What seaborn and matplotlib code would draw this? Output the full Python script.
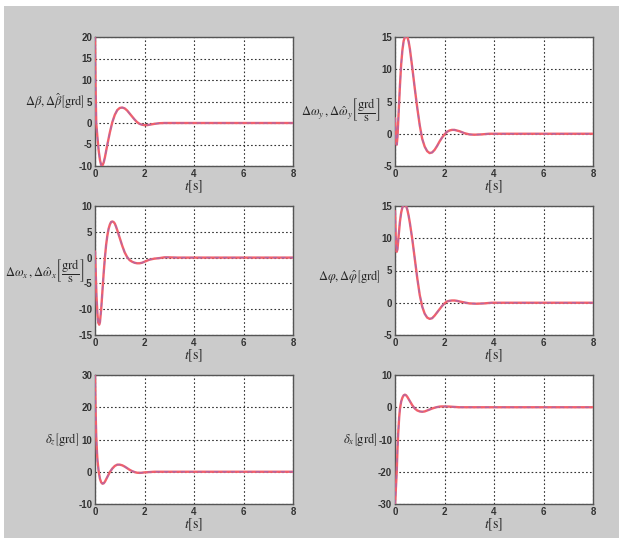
import matplotlib
matplotlib.use("Agg")
import matplotlib.pyplot as plt
import seaborn as sns
from matplotlib.patches import Rectangle

# czas [s] i przebiegi (rzeczywisty / estymowany)
t_beta = [0, 0.02, 0.05, 0.1, 0.15, 0.2, 0.25, 0.3, 0.35, 0.4, 0.5, 0.6, 0.7, 0.8, 0.9, 1.0,
          1.1, 1.2, 1.3, 1.4, 1.5, 1.6, 1.7, 1.8, 1.9, 2.0, 2.1, 2.2, 2.4, 2.6, 2.8, 8]
beta = [20, 9, 0, -3.5, -6.5, -8.6, -9.8, -9.9, -9.2, -8.0, -5.0, -2.2, 0.2, 1.9, 3.0, 3.5,
        3.6, 3.4, 2.9, 2.2, 1.5, 0.8, 0.2, -0.2, -0.4, -0.5, -0.5, -0.4, -0.2, -0.05, 0, 0]
beta_hat = list(beta)

t_wy = [0, 0.03, 0.07, 0.1, 0.15, 0.2, 0.25, 0.3, 0.35, 0.4, 0.45, 0.5, 0.55, 0.6, 0.7, 0.8,
        0.9, 1.0, 1.1, 1.2, 1.3, 1.4, 1.5, 1.6, 1.7, 1.8, 1.9, 2.0, 2.1, 2.2, 2.3, 2.4, 2.5,
        2.6, 2.8, 3.0, 3.2, 3.5, 3.8, 8]
wy = [2.4, 0, -1.7, -0.5, 3.5, 7.5, 10.8, 13.0, 14.4, 15.0, 15.2, 15.0, 14.3, 13.2, 10.2, 7.0,
      4.0, 1.3, -0.8, -2.0, -2.7, -3.0, -2.9, -2.5, -1.9, -1.2, -0.6, -0.1, 0.3, 0.5, 0.6, 0.6, 0.5,
      0.4, 0.1, -0.1, -0.15, -0.1, 0, 0]
wy_hat = list(wy)

t_wx = [0, 0.03, 0.06, 0.1, 0.13, 0.17, 0.2, 0.25, 0.3, 0.35, 0.4, 0.45, 0.5, 0.55, 0.6, 0.65,
        0.7, 0.75, 0.8, 0.85, 0.9, 1.0, 1.1, 1.2, 1.3, 1.4, 1.5, 1.6, 1.7, 1.8, 1.9, 2.0, 2.1,
        2.2, 2.4, 2.6, 2.8, 3.0, 3.3, 8]
wx = [1.2, -3, -7.5, -11, -12.6, -13, -12.5, -10, -6.5, -3.0, 0, 2.5, 4.3, 5.6, 6.4, 6.9,
      7.0, 6.9, 6.6, 6.0, 5.3, 3.8, 2.3, 1.0, 0.1, -0.5, -0.8, -1.0, -1.1, -1.1, -1.0, -0.8, -0.6,
      -0.4, -0.2, -0.1, 0.05, 0.05, 0, 0]
wx_hat = list(wx)

t_phi = [0, 0.03, 0.07, 0.1, 0.15, 0.2, 0.25, 0.3, 0.35, 0.4, 0.45, 0.5, 0.55, 0.6, 0.7, 0.8,
         0.9, 1.0, 1.1, 1.2, 1.3, 1.4, 1.5, 1.6, 1.7, 1.8, 1.9, 2.0, 2.1, 2.2, 2.3, 2.4, 2.5,
         2.6, 2.8, 3.0, 3.3, 3.6, 3.9, 8]
phi = [14.2, 10, 7.9, 8.3, 10.5, 12.6, 14.0, 14.8, 15.1, 15.2, 15.0, 14.4, 13.5, 12.4, 9.8, 6.8,
       3.8, 1.2, -0.6, -1.7, -2.3, -2.5, -2.4, -2.0, -1.5, -1.0, -0.5, -0.1, 0.2, 0.3, 0.35, 0.35, 0.3,
       0.2, 0.05, -0.1, -0.15, -0.1, 0, 0]
phi_hat = list(phi)

t_dz = [0, 0.02, 0.05, 0.08, 0.1, 0.15, 0.2, 0.25, 0.3, 0.35, 0.4, 0.5, 0.6, 0.7, 0.8, 0.9,
        1.0, 1.1, 1.2, 1.3, 1.4, 1.5, 1.6, 1.7, 1.8, 1.9, 2.0, 2.2, 2.4, 8]
dz = [30, 20, 11, 6, 3.5, 0, -2.2, -3.3, -3.7, -3.6, -3.1, -1.6, -0.1, 1.0, 1.8, 2.2,
      2.2, 2.0, 1.6, 1.1, 0.6, 0.2, -0.1, -0.3, -0.35, -0.3, -0.2, -0.1, 0, 0]
dz_hat = list(dz)

t_dx = [0, 0.03, 0.07, 0.1, 0.13, 0.17, 0.2, 0.25, 0.3, 0.35, 0.4, 0.45, 0.5, 0.6, 0.7, 0.8,
        0.9, 1.0, 1.1, 1.2, 1.3, 1.4, 1.5, 1.6, 1.7, 1.8, 1.9, 2.0, 2.2, 2.4, 2.6, 8]
dx = [-30, -26, -20, -13, -8, -3, -0.5, 1.8, 3.0, 3.7, 3.9, 3.7, 3.2, 1.9, 0.6, -0.4,
      -1.0, -1.3, -1.4, -1.3, -1.0, -0.7, -0.4, -0.15, 0.05, 0.2, 0.25, 0.25, 0.2, 0.1, 0, 0]
dx_hat = list(dx)

x_ticks = [0, 2, 4, 6, 8]

sns.set_style("white")
plt.rcParams["mathtext.fontset"] = "stix"
plt.rcParams["axes.unicode_minus"] = False
plt.rcParams["font.family"] = ["Liberation Sans", "DejaVu Sans"]

fig = plt.figure(figsize=(6.25, 5.45), dpi=100, facecolor="white")
# szare tlo okna (jak w MATLAB-ie)
fig.patches.append(Rectangle((4 / 625, 1 - 538 / 545), 615 / 625, 532 / 545,
                             transform=fig.transFigure, facecolor="#cbcbcb",
                             edgecolor="none", zorder=-10))

# (czas, przebieg, estymata, opis osi y, zakres y, podzialka y, wiersz, kolumna, polozenie opisu)
panels = [
    (t_beta, beta, beta_hat, r"$\Delta\beta,\Delta\hat{\beta}\left[\mathrm{grd}\right]$",
     (-10, 20), list(range(-10, 21, 5)), 0, 0, (-0.05, 0.5)),
    (t_wy, wy, wy_hat, r"$\Delta\omega_y\,,\Delta\hat{\omega}_y\left[\dfrac{\mathrm{grd}}{\mathrm{s}}\right]$",
     (-5, 15), list(range(-5, 16, 5)), 0, 1, (-0.075, 0.44)),
    (t_wx, wx, wx_hat, r"$\Delta\omega_x\,,\Delta\hat{\omega}_x\left[\dfrac{\mathrm{grd}}{\mathrm{s}}\right]$",
     (-15, 10), list(range(-15, 11, 5)), 1, 0, (-0.05, 0.5)),
    (t_phi, phi, phi_hat, r"$\Delta\varphi,\Delta\hat{\varphi}\left[\mathrm{grd}\right]$",
     (-5, 15), list(range(-5, 16, 5)), 1, 1, (-0.07, 0.45)),
    (t_dz, dz, dz_hat, r"$\delta_z\left[\mathrm{grd}\right]$",
     (-10, 30), list(range(-10, 31, 10)), 2, 0, (-0.08, 0.5)),
    (t_dx, dx, dx_hat, r"$\delta_x\left[\mathrm{grd}\right]$",
     (-30, 10), list(range(-30, 11, 10)), 2, 1, (-0.09, 0.5)),
]

col_left = [95 / 625, 395 / 625]
row_bottom = [1 - 166 / 545, 1 - 335 / 545, 1 - 504 / 545]
w = 198 / 625
h = 129 / 545

for t, y, y_hat, label, ylim, yticks, r, c, lab_xy in panels:
    ax = fig.add_axes([col_left[c], row_bottom[r], w, h])
    ax.set_facecolor("white")
    sns.lineplot(x=t, y=y, ax=ax, color="#f0606c", linewidth=1.7, sort=False, zorder=3)
    sns.lineplot(x=t, y=y_hat, ax=ax, color="#6a6ee8", linewidth=1.0, sort=False,
                 linestyle=(0, (3, 3)), alpha=0.45, zorder=4)
    ax.set_xlim(0, 8)
    ax.set_ylim(*ylim)
    ax.set_xticks(x_ticks)
    ax.set_yticks(yticks)
    ax.grid(True, color="#333333", linestyle=(0, (1.5, 2)), linewidth=0.8)
    ax.tick_params(direction="in", length=3, labelsize=7, colors="#333333", pad=2)
    for lbl in ax.get_xticklabels() + ax.get_yticklabels():
        lbl.set_fontweight("bold")
    for s in ax.spines.values():
        s.set_color("#555555")
        s.set_linewidth(1.0)
    ax.set_xlabel(r"$t\left[\mathrm{s}\right]$", fontsize=10, labelpad=0)
    ax.set_ylabel(label, fontsize=9, rotation=0, ha="right", va="center")
    ax.yaxis.set_label_coords(*lab_xy)

fig.savefig("out.png", dpi=100, facecolor=fig.get_facecolor())
